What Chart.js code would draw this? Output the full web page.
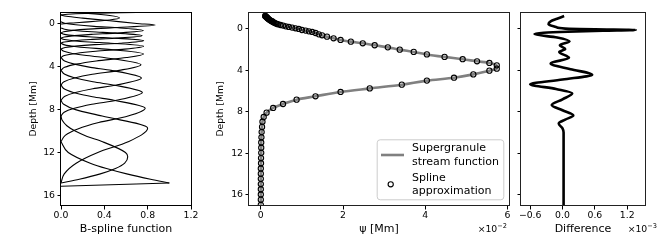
<!DOCTYPE html>
<html><head><meta charset="utf-8">
<script src="https://cdn.jsdelivr.net/npm/chart.js@4.4.1/dist/chart.umd.min.js"></script>
<style>
html,body{margin:0;padding:0;background:#fff;}
#wrap{position:relative;width:671px;height:244px;overflow:hidden;background:#fff;}
canvas{position:absolute;top:0;}
</style></head><body>
<div id="wrap">
<canvas id="c1" width="200" height="244" style="left:0px"></canvas>
<canvas id="c2" width="315" height="244" style="left:200px"></canvas>
<canvas id="c3" width="156" height="244" style="left:515px"></canvas>
</div>
<script>
// ---------- tick values / labels ----------
const depthTicks = [0, 4, 8, 12, 16];
const depthTickLabels = ['0', '4', '8', '12', '16'];
const bsplineTicks = [0, 0.4, 0.8, 1.2];
const bsplineTickLabels = ['0.0', '0.4', '0.8', '1.2'];
const psiTicks = [0, 2, 4, 6];
const psiTickLabels = ['0', '2', '4', '6'];
const diffTicks = [-0.6, 0, 0.6, 1.2];
const diffTickLabels = ['\u22120.6', '0.0', '0.6', '1.2'];

// ---------- panel 1: B-spline functions, [value, depth] ----------
const bspline00 = [[1.0,-1.12],[0.55,-1.05],[0.22,-0.98],[0.06,-0.91],[0,-0.85]];
const bspline01 = [[0,-1.12],[0.25,-0.98],[0.45,-0.8],[0.54,-0.56],[0.45,-0.38],[0.25,-0.2],[0.08,-0.08],[0,0.0]];
const bspline02 = [[0,-0.84],[0.05,-0.72],[0.2,-0.55],[0.45,-0.3],[0.7,-0.05],[0.87,0.1],[0.455,0.365],[0.25,0.48],[0.11,0.6],[0.025,0.73],[0,0.85]];
const bspline03 = [[0,-0.215],[0.034,-0.07],[0.136,0.075],[0.306,0.22],[0.545,0.365],[0.761,0.6],[0.497,0.85],[0.28,0.97],[0.124,1.09],[0.031,1.21],[0,1.33]];
const bspline04 = [[0,0.365],[0.033,0.49],[0.128,0.61],[0.285,0.73],[0.503,0.85],[0.749,1.09],[0.492,1.33],[0.271,1.45],[0.126,1.56],[0.03,1.68],[0,1.795]];
const bspline05 = [[0,0.85],[0.032,0.97],[0.127,1.09],[0.286,1.21],[0.508,1.33],[0.763,1.56],[0.542,1.795],[0.309,1.93],[0.136,2.07],[0.038,2.2],[0,2.345]];
const bspline06 = [[0,1.33],[0.031,1.45],[0.112,1.56],[0.26,1.68],[0.458,1.795],[0.762,2.07],[0.588,2.345],[0.321,2.55],[0.138,2.75],[0.031,2.95],[0,3.13]];
const bspline07 = [[0,1.795],[0.033,1.95],[0.127,2.1],[0.246,2.22],[0.412,2.345],[0.762,2.8],[0.605,3.13],[0.325,3.45],[0.141,3.75],[0.033,4.05],[0,4.33]];
const bspline08 = [[0,2.345],[0.027,2.55],[0.105,2.75],[0.235,2.95],[0.396,3.13],[0.738,3.8],[0.537,4.33],[0.289,4.7],[0.125,5.05],[0.028,5.4],[0,5.72]];
const bspline09 = [[0,3.13],[0.033,3.45],[0.124,3.75],[0.272,4.05],[0.463,4.33],[0.742,5.05],[0.503,5.72],[0.294,6.05],[0.134,6.4],[0.036,6.75],[0,7.125]];
const bspline10 = [[0,4.33],[0.035,4.7],[0.116,5.0],[0.295,5.4],[0.497,5.72],[0.751,6.4],[0.512,7.125],[0.285,7.5],[0.115,7.9],[0.029,8.25],[0,8.6]];
const bspline11 = [[0,5.72],[0.036,6.1],[0.15,6.5],[0.29,6.8],[0.488,7.125],[0.777,7.87],[0.619,8.6],[0.348,9.2],[0.155,9.8],[0.039,10.4],[0,11.0]];
const bspline12 = [[0,7.125],[0.025,7.5],[0.134,8.0],[0.38,8.6],[0.8,9.72],[0.62,11.0],[0.34,12.0],[0.14,13.0],[0.03,14.0],[0,14.85]];
const bspline13 = [[0,8.6],[0.011,9.0],[0.054,9.5],[0.131,10.0],[0.241,10.5],[0.384,11.0],[0.595,12.0],[0.616,12.4],[0.588,13.0],[0.503,13.5],[0.363,14.0],[0.169,14.5],[0,14.85]];
const bspline14 = [[0,11.0],[0.067,12.0],[0.27,13.0],[0.42,13.5],[0.607,14.0],[0.827,14.5],[1.0,14.85]];
const bsplineTail = [[1.0,14.85],[0,15.15]];
const bsplineCurves = [bspline00,bspline01,bspline02,bspline03,bspline04,bspline05,bspline06,bspline07,bspline08,bspline09,bspline10,bspline11,bspline12,bspline13,bspline14];

// ---------- panel 2: stream function (x 1e-2 Mm) vs depth ----------
const psiDepth = [-1.22,-1.19,-1.15,-1.11,-1.07,-1.03,-0.99,-0.95,-0.90,-0.85,-0.80,-0.75,-0.71,-0.66,-0.61,-0.56,-0.51,-0.46,-0.42,-0.35,-0.29,-0.22,-0.16,-0.10,-0.03,0.03,0.13,0.19,0.26,0.32,0.42,0.55,0.64,0.77,0.93,1.09,1.25,1.41,1.60,1.80,2.02,2.24,2.48,2.72,2.94,3.14,3.30,3.53,3.85,4.04,4.40,4.72,5.00,5.39,5.75,6.09,6.51,6.83,7.25,7.63,8.08,8.50,8.95,9.45,9.95,10.45,10.95,11.45,11.95,12.45,12.95,13.45,13.95,14.45,14.95,15.45,15.95,16.45,16.95];
const psiValue = [0.105,0.114,0.124,0.135,0.147,0.158,0.163,0.178,0.195,0.211,0.228,0.248,0.268,0.288,0.308,0.332,0.357,0.385,0.413,0.478,0.543,0.608,0.681,0.762,0.843,0.924,1.00,1.09,1.17,1.25,1.33,1.41,1.49,1.61,1.77,1.94,2.19,2.48,2.77,3.09,3.38,3.72,4.04,4.47,4.91,5.26,5.56,5.74,5.74,5.56,5.17,4.70,4.04,3.43,2.65,1.94,1.33,0.87,0.54,0.30,0.14,0.07,0.04,0.03,0.02,0.015,0.01,0.01,0.01,0.005,0.005,0,0,0,0,0,0,0,0];

// ---------- panel 3: difference (x 1e-3) vs depth ----------
const diffDepth = [-1.21,-0.95,-0.7,-0.42,-0.15,0.0,0.07,0.12,0.2,0.3,0.4,0.52,0.85,1.22,1.6,1.95,2.25,2.8,3.35,3.9,4.43,4.9,5.35,5.8,6.22,6.8,7.35,7.85,8.35,8.75,9.12,9.6,10.0,13.0,17.06];
const diffValue = [0.03,-0.1,-0.22,-0.26,-0.12,0.05,0.6,1.36,0.75,0.1,-0.35,-0.52,-0.1,0.13,-0.05,0.05,-0.06,0.12,-0.22,0.15,0.55,0.0,-0.6,-0.12,0.18,0.0,-0.2,0.0,0.2,0.05,-0.07,0.0,0.02,0.02,0.02];

// ---------- common setup ----------
Chart.defaults.font.family = "'DejaVu Sans', sans-serif";
Chart.defaults.color = '#000';
Chart.defaults.animation = false;

const framePlugin = {
  id: 'frame',
  afterDatasetsDraw(chart, args, opts) {
    const {ctx, chartArea: a} = chart;
    ctx.save();
    ctx.strokeStyle = opts.color || '#000';
    ctx.lineWidth = 1;
    ctx.strokeRect(Math.round(a.left) - 0.5, Math.round(a.top) + 0.5, Math.round(a.right - a.left) + 1, Math.round(a.bottom - a.top) - 1);
    ctx.restore();
  }
};

const offsetTextPlugin = {
  id: 'offsetText',
  afterDraw(chart, args, opts) {
    if (!opts || !opts.exp) return;
    const {ctx, chartArea: a} = chart;
    ctx.save();
    ctx.fillStyle = '#000';
    ctx.textBaseline = 'alphabetic';
    const base = '\u00d710';
    ctx.font = "6.6px 'DejaVu Sans'";
    const wExp = ctx.measureText(opts.exp).width;
    ctx.font = "9.3px 'DejaVu Sans'";
    const wBase = ctx.measureText(base).width;
    const right = a.right + opts.dx;
    const y = opts.y;
    ctx.textAlign = 'left';
    ctx.fillText(base, right - wExp - wBase, y);
    ctx.font = "6.6px 'DejaVu Sans'";
    ctx.fillText(opts.exp, right - wExp, y - 4);
    ctx.restore();
  }
};

const psiLegendPlugin = {
  id: 'psiLegend',
  afterDraw(chart) {
    const {ctx, chartArea: a} = chart;
    const bx = a.right - 132.3, by = a.bottom - 66.7, bw = 126.6, bh = 60;
    ctx.save();
    ctx.beginPath();
    if (ctx.roundRect) ctx.roundRect(bx + 0.5, by + 0.5, bw, bh, 3); else ctx.rect(bx + 0.5, by + 0.5, bw, bh);
    ctx.fillStyle = 'rgba(255,255,255,0.8)';
    ctx.fill();
    ctx.strokeStyle = '#cccccc';
    ctx.lineWidth = 1;
    ctx.stroke();
    ctx.beginPath();
    ctx.moveTo(bx + 4.3, by + 15.7);
    ctx.lineTo(bx + 27.3, by + 15.7);
    ctx.strokeStyle = '#808080';
    ctx.lineWidth = 2.6;
    ctx.stroke();
    ctx.beginPath();
    ctx.arc(bx + 14, by + 45, 2.6, 0, Math.PI * 2);
    ctx.strokeStyle = '#000';
    ctx.lineWidth = 1.1;
    ctx.stroke();
    ctx.fillStyle = '#000';
    ctx.font = "11px 'DejaVu Sans'";
    ctx.textBaseline = 'middle';
    ctx.textAlign = 'left';
    ctx.fillText('Supergranule', bx + 35.3, by + 9.2);
    ctx.fillText('stream function', bx + 35.3, by + 22.4);
    ctx.fillText('Spline', bx + 35.3, by + 39.2);
    ctx.fillText('approximation', bx + 35.3, by + 51.6);
    ctx.restore();
  }
};

function setTicks(values) {
  return function(scale) { scale.ticks = values.map(v => ({ value: v })); };
}

function xAxis(min, max, ticks, labels, title) {
  return {
    type: 'linear', position: 'bottom', min: min, max: max,
    afterBuildTicks: setTicks(ticks),
    afterFit: s => { s.height = 38; },
    grid: { drawOnChartArea: false, drawTicks: true, tickLength: 3.5, color: '#000', lineWidth: 1 },
    border: { display: false },
    ticks: { autoSkip: false, maxRotation: 0, minRotation: 0, padding: 0.5, font: { size: 9.3 }, color: '#000',
             callback: (v, i) => labels[i] },
    title: { display: true, text: title, font: { size: 11 }, color: '#000', padding: { top: 0, bottom: 8.4 } }
  };
}

function yAxis(min, max, width, labels, title, titlePad) {
  return {
    type: 'linear', position: 'left', reverse: true, min: min, max: max,
    afterBuildTicks: setTicks(depthTicks),
    afterFit: s => { s.width = width; },
    grid: { drawOnChartArea: false, drawTicks: true, tickLength: 3.5, color: '#000', lineWidth: 1 },
    border: { display: false },
    ticks: { autoSkip: false, padding: 2.5, font: { size: 9.3 }, color: '#000',
             callback: (v, i) => labels ? labels[i] : '' },
    title: { display: !!title, text: title || '', font: { size: 9.2 }, color: '#000', padding: { top: titlePad || 0, bottom: 0 } }
  };
}

// ---------- panel 1 ----------
const ds1 = bsplineCurves.map(c => ({
  data: c.map(p => ({ x: p[0], y: p[1] })),
  borderColor: '#000', borderWidth: 1.1, pointRadius: 0,
  cubicInterpolationMode: 'monotone', fill: false
}));
ds1.push({ data: bsplineTail.map(p => ({ x: p[0], y: p[1] })), borderColor: '#000', borderWidth: 1.1, pointRadius: 0, tension: 0, fill: false });

new Chart(document.getElementById('c1'), {
  type: 'line',
  data: { datasets: ds1 },
  options: {
    responsive: false, animation: false, indexAxis: 'y',
    layout: { padding: { left: 0, right: 9, top: 12, bottom: 0 } },
    plugins: { legend: { display: false }, tooltip: { enabled: false }, frame: { color: '#000' } },
    scales: {
      x: xAxis(0, 1.2, bsplineTicks, bsplineTickLabels, 'B-spline function'),
      y: yAxis(-1.12, 17.0, 61, depthTickLabels, 'Depth [Mm]', 27.8)
    }
  },
  plugins: [framePlugin]
});

// ---------- panel 2 ----------
const psiPoints = psiDepth.map((d, i) => ({ x: psiValue[i], y: d }));
new Chart(document.getElementById('c2'), {
  type: 'line',
  data: { datasets: [
    { label: 'Spline approximation', data: psiPoints, showLine: false, pointRadius: 2.6, pointBorderWidth: 1.1,
      pointBorderColor: '#000', pointBackgroundColor: 'rgba(0,0,0,0)', borderColor: '#000', order: 0 },
    { label: 'Supergranule stream function', data: psiPoints, borderColor: '#808080', borderWidth: 2.6, pointRadius: 0,
      cubicInterpolationMode: 'monotone', fill: false, order: 1 }
  ]},
  options: {
    responsive: false, animation: false, indexAxis: 'y',
    layout: { padding: { left: 0, right: 6, top: 12, bottom: 0 } },
    plugins: { legend: { display: false }, tooltip: { enabled: false }, frame: { color: '#222' },
               offsetText: { exp: '\u22122', dx: -2, y: 232 } },
    scales: {
      x: xAxis(-0.2875, 6.0375, psiTicks, psiTickLabels, '\u03c8 [Mm]'),
      y: yAxis(-1.6, 17.06, 49, depthTickLabels, 'Depth [Mm]', 15.3)
    }
  },
  plugins: [framePlugin, psiLegendPlugin, offsetTextPlugin]
});

// ---------- panel 3 ----------
new Chart(document.getElementById('c3'), {
  type: 'line',
  data: { datasets: [
    { data: diffDepth.map((d, i) => ({ x: diffValue[i], y: d })), borderColor: '#000', borderWidth: 2.6,
      pointRadius: 0, cubicInterpolationMode: 'monotone', fill: false }
  ]},
  options: {
    responsive: false, animation: false, indexAxis: 'y',
    layout: { padding: { left: 0, right: 26, top: 12, bottom: 0 } },
    plugins: { legend: { display: false }, tooltip: { enabled: false }, frame: { color: '#222' },
               offsetText: { exp: '\u22123', dx: 12, y: 232 } },
    scales: {
      x: xAxis(-0.77, 1.53, diffTicks, diffTickLabels, 'Difference'),
      y: yAxis(-1.6, 17.06, 6, null, null, 0)
    }
  },
  plugins: [framePlugin, offsetTextPlugin]
});
</script>
</body></html>
